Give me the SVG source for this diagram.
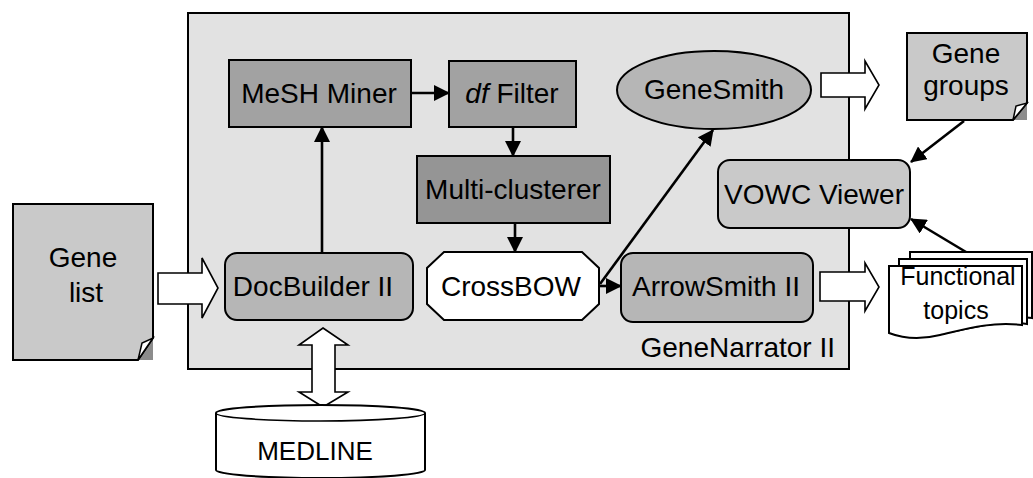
<svg xmlns="http://www.w3.org/2000/svg" width="1033" height="478" viewBox="0 0 1033 478">
  <style>
    text { font-family: "Liberation Sans", Arial, sans-serif; font-size: 28px; fill: #000; text-anchor: middle; }
    .frame { fill: #e2e2e2; stroke: #000; stroke-width: 2; }
    .dark { fill: #a2a2a2; stroke: #000; stroke-width: 2; }
    .darker { fill: #959595; stroke: #000; stroke-width: 2; }
    .mid { fill: #b6b6b6; stroke: #000; stroke-width: 2; }
    .light { fill: #c9c9c9; stroke: #000; stroke-width: 2; }
    .white { fill: #fff; stroke: #000; stroke-width: 2; }
    .hollow { fill: #fff; stroke: #000; stroke-width: 1.6; stroke-linejoin: miter; }
    .link { fill: none; stroke: #000; stroke-width: 2.6; }
    .fold { fill: #fff; stroke: #000; stroke-width: 1.5; }
    .corner { fill: #8c8c8c; }
  </style>
  <defs>
    <marker id="head" viewBox="0 0 16 16" refX="15" refY="8" markerWidth="16" markerHeight="16" markerUnits="userSpaceOnUse" orient="auto">
      <path d="M0,0 L16,8 L0,16 Z" fill="#000"/>
    </marker>
  </defs>

  <rect width="1033" height="478" fill="#fff"/>

  <!-- GeneNarrator II system boundary -->
  <g id="genenarrator">
    <rect class="frame" x="188" y="13" width="661" height="356"/>
    <text x="835" y="357" style="text-anchor:end">GeneNarrator II</text>
  </g>

  <!-- Block arrows (data flow) -->
  <g id="flows">
    <polygon class="hollow" points="158,273 202,273 202,258 218,288 202,318 202,304 158,304"/>
    <polygon class="hollow" points="821,73 865,73 865,61 879,85 865,109 865,97 821,97"/>
    <polygon class="hollow" points="820,272 865,272 865,263 879,287 865,311 865,301 820,301"/>
    <polygon class="hollow" points="323,328 348,345 335,345 335,392 348,392 323,407 299,392 312,392 312,345 299,345"/>
  </g>

  <g id="mesh-miner">
    <rect class="dark" x="229" y="60" width="182" height="67"/>
    <text x="319" y="103">MeSH Miner</text>
  </g>

  <g id="df-filter">
    <rect class="dark" x="449" y="61" width="127" height="66"/>
    <text x="512" y="103"><tspan font-style="italic">df</tspan> Filter</text>
  </g>

  <g id="multi-clusterer">
    <rect class="darker" x="417" y="156" width="193" height="67"/>
    <text x="513" y="199">Multi-clusterer</text>
  </g>

  <g id="docbuilder">
    <rect class="mid" x="225" y="253" width="188" height="67" rx="12"/>
    <text x="313" y="296">DocBuilder II</text>
  </g>

  <g id="crossbow">
    <polygon class="white" points="444,252 582,252 599,268 599,304 582,320 444,320 427,304 427,268"/>
    <text x="511" y="296">CrossBOW</text>
  </g>

  <g id="arrowsmith">
    <rect class="mid" x="621" y="253" width="192" height="69" rx="12"/>
    <text x="716" y="296">ArrowSmith II</text>
  </g>

  <g id="genesmith">
    <ellipse class="mid" cx="714" cy="90" rx="97" ry="39"/>
    <text x="714" y="99">GeneSmith</text>
  </g>

  <g id="vowc-viewer">
    <rect class="light" x="718" y="160" width="192" height="68" rx="12"/>
    <text x="814" y="204">VOWC Viewer</text>
  </g>

  <g id="gene-list">
    <polygon class="corner" points="138,360 153,360 153,338"/>
    <path class="light" d="M13,204 H153 V338 L138,360 H13 Z"/>
    <path class="fold" d="M138,360 L142,343 L153,338 Z"/>
    <text x="83" y="267">Gene</text>
    <text x="86" y="302">list</text>
  </g>

  <g id="gene-groups">
    <polygon class="corner" points="1013,120 1027,120 1027,103"/>
    <path class="light" d="M907,33 H1027 V103 L1013,120 H907 Z"/>
    <path class="fold" d="M1013,120 L1016,106 L1027,103 Z"/>
    <text x="966" y="63">Gene</text>
    <text x="966" y="95">groups</text>
  </g>

  <g id="functional-topics">
    <path class="white" d="M910,252 H1032 V318 C1002,314 978,322 958,326 C938,330 922,328 910,325 Z"/>
    <path class="white" d="M899,259 H1027 V324 C997,320 972,328 950,332 C930,336 913,334 899,331 Z"/>
    <path class="white" d="M889,266 H1022 V325 C990,321 962,330 940,335 C920,340 902,338 889,333 Z"/>
    <text x="958" y="285" style="font-size:25px">Functional</text>
    <text x="956" y="319" style="font-size:25px">topics</text>
  </g>

  <g id="medline">
    <path class="white" d="M216,413 V470 A104.5,8 0 0 0 425,470 V413 A104.5,8 0 0 0 216,413 Z"/>
    <path class="link" style="stroke-width:1.6" d="M216,413 A104.5,8 0 0 0 425,413"/>
    <text x="315" y="460" style="font-size:26px">MEDLINE</text>
  </g>

  <!-- Connectors -->
  <g id="connectors" class="link">
    <path class="link" d="M322,253 V127" marker-end="url(#head)"/>
    <path class="link" d="M411,93 H449" marker-end="url(#head)"/>
    <path class="link" d="M513,127 V156" marker-end="url(#head)"/>
    <path class="link" d="M515,223 V252" marker-end="url(#head)"/>
    <path class="link" d="M599,286 H621" marker-end="url(#head)"/>
    <path class="link" d="M600,284 L713,130" marker-end="url(#head)"/>
    <path class="link" d="M964,121 L911,162" marker-end="url(#head)"/>
    <path class="link" d="M966,252 L911,219" marker-end="url(#head)"/>
  </g>
</svg>
